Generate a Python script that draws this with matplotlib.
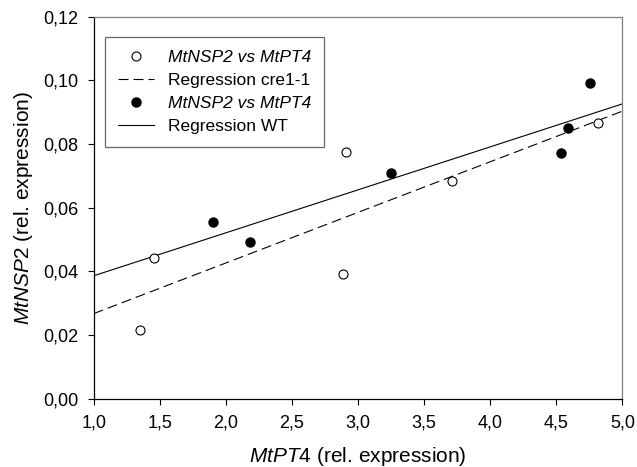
import numpy as np
import matplotlib
matplotlib.use('Agg')
import matplotlib.pyplot as plt
from matplotlib.ticker import FuncFormatter, MultipleLocator

plt.rcParams['font.family'] = ['Liberation Sans', 'DejaVu Sans']
plt.rcParams['mathtext.fontset'] = 'custom'
plt.rcParams['mathtext.it'] = 'Liberation Sans:italic'
plt.rcParams['mathtext.rm'] = 'Liberation Sans'

# cre1-1 (open circles)
x_cre = [1.353, 1.459, 2.887, 2.911, 3.711, 4.814]
y_cre = [0.0215, 0.0441, 0.0393, 0.0776, 0.0683, 0.0866]
# WT (filled circles)
x_wt = [1.900, 2.185, 3.247, 4.536, 4.591, 4.753]
y_wt = [0.0554, 0.0492, 0.0709, 0.0771, 0.0851, 0.0993]

labels = ['MtNSP2 vs MtPT4', 'Regression cre1-1', 'MtNSP2 vs MtPT4', 'Regression WT']

fig = plt.figure(figsize=(6.37, 4.67), dpi=100)
ax = fig.add_axes([0.147, 0.1463, 0.830, 0.8179])

xx = np.array([1.0, 5.0])
k_cre = np.polyfit(x_cre, y_cre, 1)
k_wt = np.polyfit(x_wt, y_wt, 1)

ax.plot(x_cre, y_cre, 'o', ms=6.5, mfc='white', mec='black', mew=0.8, label=labels[0], zorder=3)
ax.plot(xx, np.polyval(k_cre, xx), color='black', lw=0.8, dashes=[9, 4.5], label=labels[1])
ax.plot(x_wt, y_wt, 'o', ms=6.5, mfc='black', mec='black', label=labels[2], zorder=3)
ax.plot(xx, np.polyval(k_wt, xx), color='black', lw=0.8, label=labels[3])

ax.set_xlim(1.0, 5.0)
ax.set_ylim(0.0, 0.12)
ax.xaxis.set_major_locator(MultipleLocator(0.5))
ax.yaxis.set_major_locator(MultipleLocator(0.02))
ax.xaxis.set_major_formatter(FuncFormatter(lambda v, p: ('%.1f' % v).replace('.', ',')))
ax.yaxis.set_major_formatter(FuncFormatter(lambda v, p: ('%.2f' % v).replace('.', ',')))
ax.tick_params(direction='out', length=4, width=0.8, labelsize=13, pad=7)
ax.tick_params(axis='x', pad=7.5)

for s in ['top', 'right']:
    ax.spines[s].set_color('#808080')
for s in ['left', 'bottom']:
    ax.spines[s].set_color('black')
for s in ax.spines.values():
    s.set_linewidth(0.9)

ax.set_xlabel(r'$\mathit{MtPT4}$ (rel. expression)', fontsize=15, labelpad=9.5)
ax.set_ylabel(r'$\mathit{MtNSP2}$ (rel. expression)', fontsize=15, labelpad=6)

leg = ax.legend(loc='upper left', bbox_to_anchor=(0.0212, 0.9477), fontsize=12.5,
                frameon=True, fancybox=False, handlelength=2.1, handletextpad=0.8,
                labelspacing=0.45, borderpad=0.75, borderaxespad=0)
leg.get_frame().set_edgecolor('#404040')
leg.get_frame().set_linewidth(0.9)
for i in (0, 2):
    leg.get_texts()[i].set_style('italic')

plt.savefig('out.png', dpi=100)
